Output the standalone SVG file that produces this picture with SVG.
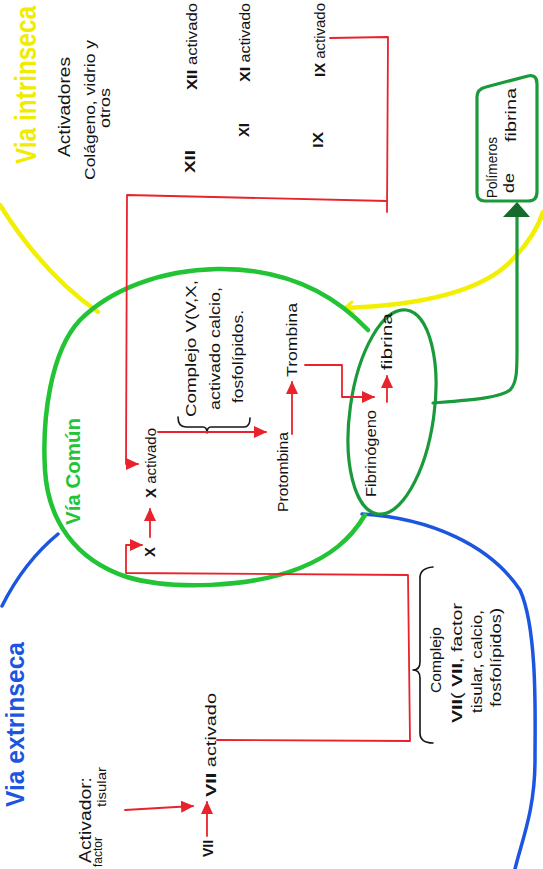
<svg xmlns="http://www.w3.org/2000/svg" width="543" height="869" viewBox="0 0 543 869">
<style>
  text { font-family: "Liberation Sans", "DejaVu Sans", sans-serif; fill: #141414; font-size: 15px; }
  .b { font-weight: bold; }
  .red { fill: none; stroke: #e8232b; stroke-width: 1.8; stroke-linecap: round; stroke-linejoin: round; }
  .blk { fill: none; stroke: #141414; stroke-width: 1.6; stroke-linecap: round; stroke-linejoin: round; }
  .yel { fill: none; stroke: #f3ef00; stroke-width: 4.5; stroke-linecap: round; }
  .blu { fill: none; stroke: #1c55e0; stroke-width: 3.5; stroke-linecap: round; }
  .grn { fill: none; stroke: #22c436; stroke-width: 4.5; stroke-linecap: round; }
  .dgrn { fill: none; stroke: #1b9a3c; stroke-width: 3.2; stroke-linecap: round; stroke-linejoin: round; }
</style>
<defs>
  <marker id="ar" markerUnits="userSpaceOnUse" markerWidth="13" markerHeight="12" refX="12" refY="6" orient="auto">
    <path d="M0,0 L13,6 L0,12 z" fill="#e8232b"/>
  </marker>
</defs>
<rect width="543" height="869" fill="#ffffff"/>

<g id="via-intrinseca">
  <path class="yel" d="M0,205 C25,245 55,282 98,312"/>
  <path class="yel" d="M345,308 C420,305 480,292 510,262 C528,244 538,228 543,212"/>
  <path class="yel" d="M352,302 L345,308 L353,313" style="stroke-width:3"/>
  <text class="b" transform="translate(36,164) rotate(-90) scale(1,1.2)" style="fill:#f0ec00;font-size:24px" textLength="158" lengthAdjust="spacingAndGlyphs">Via intrinseca</text>
</g>

<g id="via-extrinseca">
  <path class="blu" d="M2,606 C15,580 35,553 58,534"/>
  <path class="blu" d="M362,514 C430,518 490,545 520,590 C538,630 535,720 535,760 C535,810 522,840 515,869"/>
  <text class="b" transform="translate(24,807) rotate(-90)" style="fill:#1c55e0;font-size:25px" textLength="165" lengthAdjust="spacingAndGlyphs">Via extrinseca</text>
</g>

<g id="via-comun">
  <path class="grn" d="M368,330 C330,290 280,268 217,269 C160,270 110,290 80,320 C50,352 42,420 45,470 C48,520 75,560 127,577 C170,590 250,588 300,568 C330,556 350,540 365,515"/>
  <text class="b" transform="translate(80,525) rotate(-90)" style="fill:#22c436;font-size:21px" textLength="107" lengthAdjust="spacingAndGlyphs">Vía Común</text>
</g>

<g id="activadores-intrinseca">
  <text transform="translate(70,157) rotate(-90)" style="font-size:17px" textLength="100" lengthAdjust="spacingAndGlyphs">Activadores</text>
  <text transform="translate(95,180) rotate(-90)" textLength="140" lengthAdjust="spacingAndGlyphs">Colágeno, vidrio y</text>
  <text transform="translate(110,128) rotate(-90)" textLength="40" lengthAdjust="spacingAndGlyphs">otros</text>
</g>

<g id="factor-xii">
  <text class="b" transform="translate(195,173) rotate(-90)" textLength="23" lengthAdjust="spacingAndGlyphs">XII</text>
  <text transform="translate(197,90) rotate(-90)" textLength="87" lengthAdjust="spacingAndGlyphs"><tspan class="b">XII</tspan> activado</text>
</g>
<g id="factor-xi">
  <text class="b" transform="translate(249,137) rotate(-90)" textLength="14" lengthAdjust="spacingAndGlyphs">XI</text>
  <text transform="translate(250,82) rotate(-90)" textLength="79" lengthAdjust="spacingAndGlyphs"><tspan class="b">XI</tspan> activado</text>
</g>
<g id="factor-ix">
  <text class="b" transform="translate(323,148) rotate(-90)" textLength="16" lengthAdjust="spacingAndGlyphs">IX</text>
  <text transform="translate(325,77) rotate(-90)" textLength="74" lengthAdjust="spacingAndGlyphs"><tspan class="b">IX</tspan> activado</text>
</g>

<g id="complejo-v">
  <path class="blk" d="M178,417 Q178,427 186,427 L203,427 Q207,427 207,433 Q207,427 211,427 L244,427 Q250,427 250,418"/>
  <text transform="translate(196,417) rotate(-90)" textLength="137" lengthAdjust="spacingAndGlyphs">Complejo V(V,X,</text>
  <text transform="translate(220,410) rotate(-90)" textLength="123" lengthAdjust="spacingAndGlyphs">activado calcio,</text>
  <text transform="translate(243,403) rotate(-90)" textLength="93" lengthAdjust="spacingAndGlyphs">fosfolípidos.</text>
</g>

<g id="factor-x">
  <text class="b" transform="translate(155,557) rotate(-90)" textLength="10" lengthAdjust="spacingAndGlyphs">X</text>
  <text transform="translate(156,498) rotate(-90)" textLength="70" lengthAdjust="spacingAndGlyphs"><tspan class="b">X</tspan> activado</text>
</g>

<g id="protrombina">
  <text transform="translate(288,512) rotate(-90)" textLength="80" lengthAdjust="spacingAndGlyphs">Protombina</text>
</g>
<g id="trombina">
  <text transform="translate(297,377) rotate(-90)" textLength="74" lengthAdjust="spacingAndGlyphs">Trombina</text>
</g>

<g id="fibrinogeno">
  <ellipse class="dgrn" cx="392" cy="412" rx="42" ry="103" transform="rotate(8 392 412)"/>
  <text transform="translate(376,497) rotate(-90)" textLength="87" lengthAdjust="spacingAndGlyphs">Fibrinógeno</text>
  <text transform="translate(392,370) rotate(-90)" textLength="57" lengthAdjust="spacingAndGlyphs">fibrina</text>
</g>

<g id="polimeros">
  <path class="dgrn" d="M486,87 L528,76 Q537,74 537,84 L537,192 Q537,201 528,201 L485,201 Q477,201 477,193 L477,97 Q477,89 486,87 z"/>
  <text transform="translate(497,198) rotate(-90)" textLength="61" lengthAdjust="spacingAndGlyphs">Polímeros</text>
  <text transform="translate(514,193) rotate(-90)" textLength="20" lengthAdjust="spacingAndGlyphs">de</text>
  <text transform="translate(516,142) rotate(-90)" textLength="54" lengthAdjust="spacingAndGlyphs">fibrina</text>
</g>

<g id="complejo-vii">
  <path class="blk" d="M433,567 Q420,568 420,578 L420,662 Q420,670 413,670 Q420,670 420,678 L420,733 Q420,743 433,743"/>
  <text transform="translate(441,693) rotate(-90)" textLength="66" lengthAdjust="spacingAndGlyphs">Complejo</text>
  <text transform="translate(462,723) rotate(-90)" textLength="120" lengthAdjust="spacingAndGlyphs"><tspan class="b">VII</tspan>( <tspan class="b">VII</tspan>, factor</text>
  <text transform="translate(482,713) rotate(-90)" textLength="103" lengthAdjust="spacingAndGlyphs">tisular, calcio,</text>
  <text transform="translate(501,707) rotate(-90)" textLength="99" lengthAdjust="spacingAndGlyphs">fosfolípidos)</text>
</g>

<g id="activador-extrinseca">
  <text transform="translate(91,863) rotate(-90)" style="font-size:17px" textLength="86" lengthAdjust="spacingAndGlyphs">Activador:</text>
  <text transform="translate(102,867) rotate(-90)" style="font-size:13px" textLength="30" lengthAdjust="spacingAndGlyphs">factor</text>
  <text transform="translate(106,807) rotate(-90)" style="font-size:13px" textLength="40" lengthAdjust="spacingAndGlyphs">tisular</text>
</g>

<g id="factor-vii">
  <text class="b" transform="translate(213,857) rotate(-90)" textLength="17" lengthAdjust="spacingAndGlyphs">VII</text>
  <text transform="translate(216,797) rotate(-90)" textLength="104" lengthAdjust="spacingAndGlyphs"><tspan class="b">VII</tspan> activado</text>
</g>

<g id="connectors">
  <path class="red" d="M330,38 L388,37 L387,212"/>
  <path class="red" d="M387,201 L127,195 L126,464 L138,464" marker-end="url(#ar)"/>
  <path class="red" d="M217,740 L410,741 L408,575 L126,573 L126,545 L142,545" marker-end="url(#ar)"/>
  <path class="red" d="M125,810 L193,806" marker-end="url(#ar)"/>
  <path class="red" d="M207,836 L207,802" marker-end="url(#ar)"/>
  <path class="red" d="M150,537 L150,509" marker-end="url(#ar)"/>
  <path class="red" d="M158,432 L266,432" marker-end="url(#ar)"/>
  <path class="red" d="M292,434 L292,382" marker-end="url(#ar)"/>
  <path class="red" d="M305,365 L342,365 L342,397 L374,397" marker-end="url(#ar)"/>
  <path class="red" d="M387,402 L387,376" marker-end="url(#ar)"/>
  <path class="dgrn" d="M433,403 C470,400 500,398 510,390 C517,383 517,370 517,350 L517,214"/>
  <polygon points="517,202 503,217 530,217" fill="#146b2c"/>
</g>
</svg>
